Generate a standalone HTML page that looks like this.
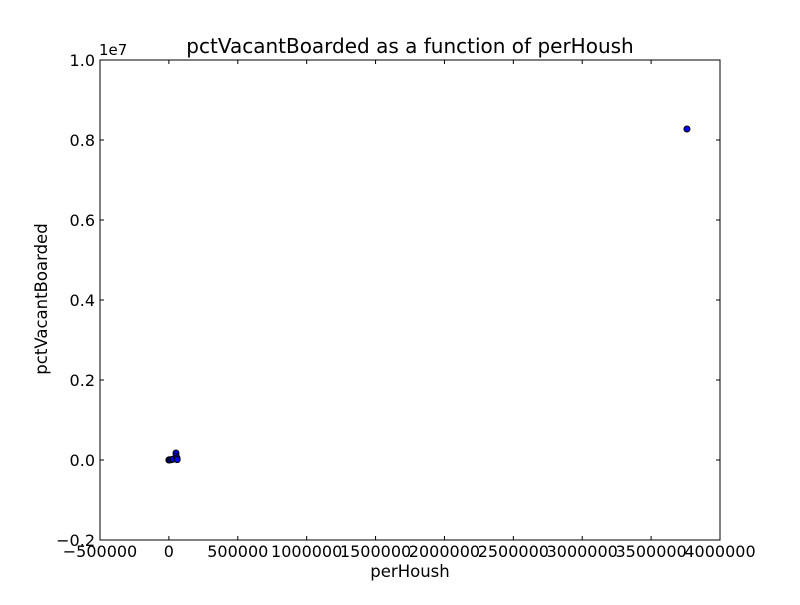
<!DOCTYPE html>
<html><head><meta charset="utf-8"><style>body{margin:0;background:#fff}svg text{font-family:"DejaVu Sans","Liberation Sans",sans-serif}</style></head>
<body>
<svg id="c" width="800" height="600" xmlns="http://www.w3.org/2000/svg">
<rect width="800" height="600" fill="#fff"/>
<text x="410" y="53" font-size="20" text-anchor="middle">pctVacantBoarded as a function of perHoush</text>
<text x="410" y="577" font-size="16.5" text-anchor="middle">perHoush</text>
<text x="47" y="299" font-size="16.5" text-anchor="middle" transform="rotate(-90 47 299)">pctVacantBoarded</text>
<text x="99" y="55" font-size="15">1e7</text>
<g id="ticks"></g><g id="pts"></g>
<rect x="100" y="60" width="620" height="480" fill="none" stroke="#000"/>
</svg>
<script>
const xTicks=[-500000,0,500000,1000000,1500000,2000000,2500000,3000000,3500000,4000000];
const yTicks=[-0.2,0,0.2,0.4,0.6,0.8,1.0];
const xVals=[0,3000,8000,20000,30000,51500,52000,58800,60000];
const yVals=[0,5000,2000,10000,20000,175000,100000,50000,10000];
const outX=[3760000];const outY=[8275000];
const X=v=>100+(v+500000)/4500000*620;
const Y=v=>540-(v/1e7+0.2)/1.2*480;
const ns="http://www.w3.org/2000/svg";
const tg=document.getElementById('ticks'),pg=document.getElementById('pts');
function mk(t,a,p){const e=document.createElementNS(ns,t);for(const k in a)e.setAttribute(k,a[k]);p.appendChild(e);return e;}
xTicks.forEach(v=>{const x=X(v);
mk('line',{x1:x,x2:x,y1:540,y2:536,stroke:'#000'},tg);mk('line',{x1:x,x2:x,y1:60,y2:64,stroke:'#000'},tg);
const t=mk('text',{x:x,y:557,'font-size':16,'text-anchor':'middle'},tg);t.textContent=(v<0?'\u2212'+(-v):v);

});
yTicks.forEach(v=>{const y=Y(v*1e7);
mk('line',{x1:100,x2:104,y1:y,y2:y,stroke:'#000'},tg);mk('line',{x1:716,x2:720,y1:y,y2:y,stroke:'#000'},tg);
const t=mk('text',{x:95,y:y+6,'font-size':16,'text-anchor':'end'},tg);t.textContent=(v<0?'\u2212':'')+Math.abs(v).toFixed(1);

});
const all=xVals.map((v,i)=>[v,yVals[i]]).concat(outX.map((v,i)=>[v,outY[i]]));
all.forEach(p=>{const c=mk('circle',{cx:X(p[0]),cy:Y(p[1]),r:3,fill:'#0000ff',stroke:'#000','stroke-width':1},pg);

});
</script>
</body></html>
